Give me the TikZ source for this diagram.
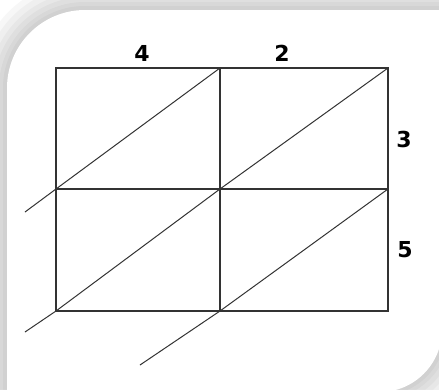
\documentclass[tikz,border=0pt]{standalone}
\usepackage{fontspec}
\setmainfont{DejaVu Sans}
\begin{document}
\begin{tikzpicture}[x=1pt,y=-1pt,
  gridline/.style={draw=black!80, line width=1.3pt},
  diagline/.style={draw=black!80, line width=1pt},
  num/.style={font=\fontsize{22}{22}\selectfont\bfseries, text=black, inner sep=0pt},
  shadowline/.style={draw=black, draw opacity=0.03, line join=round}]
\useasboundingbox (0,0) rectangle (439,389);
\clip (0,0) rectangle (439,389);
\fill[white] (0,0) rectangle (439,389);
% panel shadow
\foreach \w in {60,48,36,26,16,8}{
  \path[shadowline, line width=\w pt] (480,10) -- (85,10) .. controls (42,10) and (7,45) .. (7,88) -- (7,430) -- (380,430) -- (380,392) .. controls (414,392) and (442,364) .. (442,330) -- (480,330) -- cycle;
}
% panel
\fill[white] (480,10) -- (85,10) .. controls (42,10) and (7,45) .. (7,88) -- (7,430) -- (380,430) -- (380,392) .. controls (414,392) and (442,364) .. (442,330) -- (480,330) -- cycle;

% grid points
\coordinate (a0) at (56,68);   \coordinate (a1) at (220,68);  \coordinate (a2) at (388,68);
\coordinate (b0) at (56,189);  \coordinate (b1) at (220,189); \coordinate (b2) at (388,189);
\coordinate (c0) at (56,311);  \coordinate (c1) at (220,311); \coordinate (c2) at (388,311);
% free ends of diagonals
\coordinate (e1) at (25,212);
\coordinate (e2) at (25,332);
\coordinate (e3) at (140,365);

% grid
\draw[gridline] (a0) -- (a2) -- (c2) -- (c0) -- cycle;
\draw[gridline] (a1) -- (c1);
\draw[gridline] (b0) -- (b2);

% diagonals
\draw[diagline] (a1) -- (b0) -- (e1);
\draw[diagline] (a2) -- (b1) -- (c0) -- (e2);
\draw[diagline] (b2) -- (c1) -- (e3);

% labels
\node[num] (n4) at (142,53) {4};
\node[num] (n2) at (282,53) {2};
\node[num] (n3) at (404,139) {3};
\node[num] (n5) at (405,250) {5};
\end{tikzpicture}
\end{document}
